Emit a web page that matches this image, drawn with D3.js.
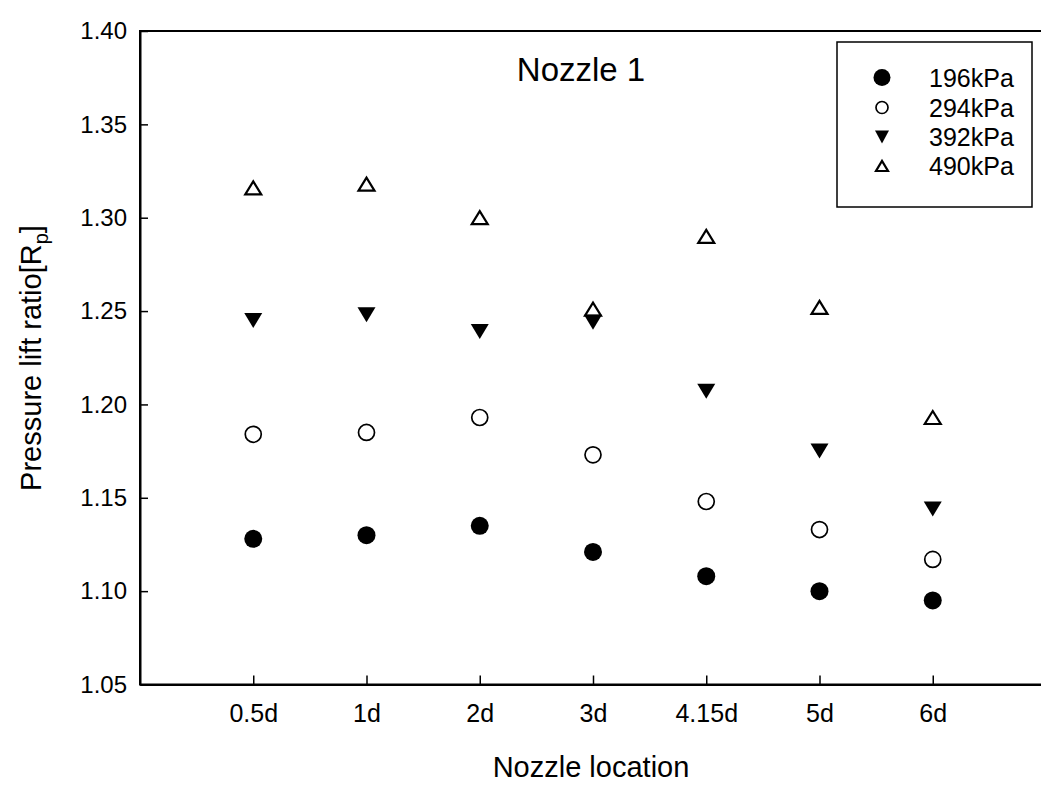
<!DOCTYPE html>
<html>
<head>
<meta charset="utf-8">
<script src="https://cdn.jsdelivr.net/npm/d3@7"></script>
<style>
  html, body { margin: 0; padding: 0; background: #fff; }
  svg { display: block; font-family: "Liberation Sans", Arial, sans-serif; }
</style>
</head>
<body>
<svg id="chart" width="1041" height="785"></svg>
<script>
// Nozzle locations (categories) and pressure lift ratio per supply pressure
const locations = ["0.5d", "1d", "2d", "3d", "4.15d", "5d", "6d"];
const seriesNames = ["196kPa", "294kPa", "392kPa", "490kPa"];
const p196 = [1.128, 1.130, 1.135, 1.121, 1.108, 1.100, 1.095];
const p294 = [1.184, 1.185, 1.193, 1.173, 1.148, 1.133, 1.117];
const p392 = [1.245, 1.248, 1.239, 1.244, 1.207, 1.175, 1.144];
const p490 = [1.316, 1.318, 1.300, 1.251, 1.290, 1.252, 1.193];
const yTicks = [1.05, 1.10, 1.15, 1.20, 1.25, 1.30, 1.35, 1.40];

const series = [
  { name: seriesNames[0], values: p196, shape: "filledCircle" },
  { name: seriesNames[1], values: p294, shape: "openCircle" },
  { name: seriesNames[2], values: p392, shape: "filledDown" },
  { name: seriesNames[3], values: p490, shape: "openUp" }
];

const svg = d3.select("#chart");
const plotLeft = 140, plotRight = 1046, plotTop = 31, plotBottom = 684.5;

const x = d3.scalePoint().domain(locations).range([plotLeft, plotRight]).padding(1);
const y = d3.scaleLinear().domain([1.05, 1.40]).range([plotBottom, plotTop]);

// Plot frame
svg.append("rect")
  .attr("x", plotLeft).attr("y", plotTop)
  .attr("width", plotRight - plotLeft).attr("height", plotBottom - plotTop)
  .attr("fill", "none").attr("stroke", "#000").attr("stroke-width", 2);

// Axes with inward ticks
const yAxis = svg.append("g")
  .attr("transform", `translate(${plotLeft},0)`)
  .call(d3.axisLeft(y).tickValues(yTicks).tickFormat(d3.format(".2f"))
    .tickSizeInner(-8).tickSizeOuter(0).tickPadding(13));
yAxis.select(".domain").attr("stroke-width", 2);
yAxis.selectAll(".tick line").attr("stroke-width", 1.5);
yAxis.selectAll("text").attr("font-size", 24).attr("fill", "#000")
  .attr("font-family", "Liberation Sans, Arial, sans-serif");

const xAxis = svg.append("g")
  .attr("transform", `translate(0,${plotBottom})`)
  .call(d3.axisBottom(x).tickSizeInner(-9).tickSizeOuter(0).tickPadding(20));
xAxis.select(".domain").attr("stroke-width", 2);
xAxis.selectAll(".tick line").attr("stroke-width", 1.5);
xAxis.selectAll("text").attr("font-size", 25).attr("fill", "#000")
  .attr("font-family", "Liberation Sans, Arial, sans-serif");

// Marker drawing
function drawMarker(g, shape, cx, cy, s) {
  if (shape === "filledCircle") {
    g.append("circle").attr("cx", cx).attr("cy", cy).attr("r", s.r)
      .attr("fill", "#000");
  } else if (shape === "openCircle") {
    g.append("circle").attr("cx", cx).attr("cy", cy).attr("r", s.r)
      .attr("fill", "#fff").attr("stroke", "#000").attr("stroke-width", 1.7);
  } else if (shape === "filledDown") {
    const w = s.w / 2, h = s.h;
    g.append("path")
      .attr("d", `M${cx - w},${cy - h / 2}L${cx + w},${cy - h / 2}L${cx},${cy + h / 2}Z`)
      .attr("fill", "#000");
  } else if (shape === "openUp") {
    const w = s.w / 2, h = s.h;
    g.append("path")
      .attr("d", `M${cx - w},${cy + h / 2}L${cx + w},${cy + h / 2}L${cx},${cy - h / 2}Z`)
      .attr("fill", "none").attr("stroke", "#000").attr("stroke-width", 2.2)
      .attr("stroke-linejoin", "miter");
  }
}

const plotSizes = {
  filledCircle: { r: 9 },
  openCircle: { r: 8 },
  filledDown: { w: 18, h: 15 },
  openUp: { w: 16, h: 13 }
};

const marks = svg.append("g");
series.forEach(s => {
  s.values.forEach((v, i) => {
    drawMarker(marks, s.shape, x(locations[i]), y(v), plotSizes[s.shape]);
  });
});

// Title
svg.append("text")
  .attr("x", 581).attr("y", 81)
  .attr("text-anchor", "middle")
  .attr("font-size", 33)
  .text("Nozzle 1");

// Axis titles
svg.append("text")
  .attr("x", 591).attr("y", 777)
  .attr("text-anchor", "middle")
  .attr("font-size", 29)
  .text("Nozzle location");

const yTitle = svg.append("text")
  .attr("transform", "translate(41,358) rotate(-90)")
  .attr("text-anchor", "middle")
  .attr("font-size", 29);
yTitle.append("tspan").text("Pressure lift ratio[R");
yTitle.append("tspan").attr("font-size", 20).attr("dy", 7).text("p");
yTitle.append("tspan").attr("dy", -7).text("]");

// Legend
const legend = svg.append("g");
legend.append("rect")
  .attr("x", 837).attr("y", 42).attr("width", 195).attr("height", 165)
  .attr("fill", "#fff").attr("stroke", "#000").attr("stroke-width", 1.5);

const legendSizes = {
  filledCircle: { r: 8.5 },
  openCircle: { r: 6 },
  filledDown: { w: 14, h: 13 },
  openUp: { w: 12, h: 10 }
};
const legendRows = [77.5, 107.5, 137, 166];
series.forEach((s, i) => {
  drawMarker(legend, s.shape, 882, legendRows[i], legendSizes[s.shape]);
  legend.append("text")
    .attr("x", 929).attr("y", legendRows[i])
    .attr("dy", "0.36em")
    .attr("font-size", 25)
    .text(s.name);
});
</script>
</body>
</html>
